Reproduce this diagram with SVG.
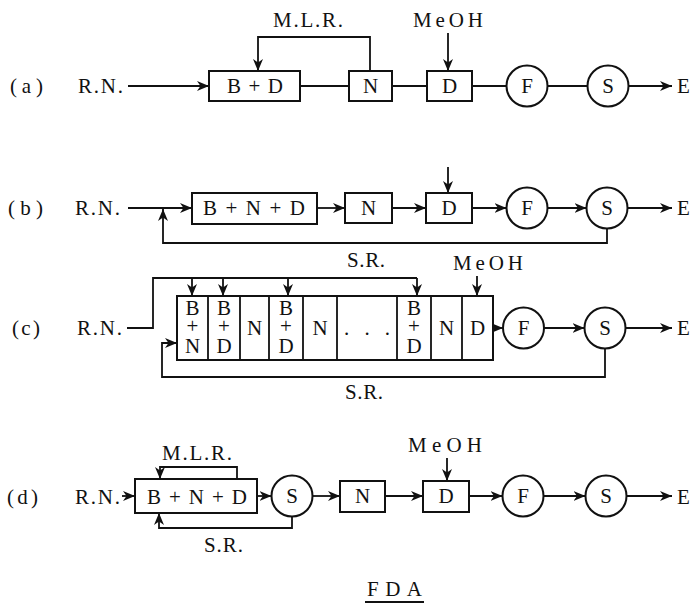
<svg xmlns="http://www.w3.org/2000/svg" width="698" height="610" viewBox="0 0 698 610">
<defs>
<style>
text{font-family:'Liberation Serif','DejaVu Serif',serif;font-size:21px;fill:#111}
.m{text-anchor:middle}
.ln{stroke:#111;stroke-width:1.8;fill:none}
.bx{stroke:#111;stroke-width:2;fill:#fff}
.ar{stroke:#111;stroke-width:1.8;fill:none;marker-end:url(#ah)}
</style>
<marker id="ah" markerUnits="userSpaceOnUse" viewBox="0 0 12 10" markerWidth="12" markerHeight="10" refX="12" refY="5" orient="auto">
<path d="M0,0 L12,5 L0,10 L3.5,5 z" fill="#111"/>
</marker>
</defs>
<rect width="698" height="610" fill="#fff"/>

<g id="labels" font-family="Liberation Serif, DejaVu Serif, serif">
<text x="10" y="93" textLength="33">(a)</text>
<text x="8" y="215" textLength="35">(b)</text>
<text x="12" y="335" textLength="28">(c)</text>
<text x="7" y="504" textLength="31">(d)</text>
<text x="78" y="93" textLength="45">R.N.</text>
<text x="75" y="215" textLength="45">R.N.</text>
<text x="77" y="335" textLength="45">R.N.</text>
<text x="75" y="504" textLength="45">R.N.</text>
<text x="273" y="27" textLength="70">M.L.R.</text>
<text x="413" y="27" textLength="70">MeOH</text>
<text x="347" y="267" textLength="38">S.R.</text>
<text x="453" y="270" textLength="70">MeOH</text>
<text x="345" y="399" textLength="38">S.R.</text>
<text x="162" y="460" textLength="70">M.L.R.</text>
<text x="204" y="552" textLength="39">S.R.</text>
<text x="408" y="452" textLength="74">MeOH</text>
<text x="677" y="93">E</text>
<text x="677" y="215">E</text>
<text x="677" y="335">E</text>
<text x="677" y="504">E</text>
<text x="367" y="596" textLength="55">FDA</text>
<line class="ln" x1="365" y1="602" x2="424" y2="602" stroke-width="1.3"/>
</g>

<g id="connectors">
<line class="ar" x1="128" y1="86" x2="209" y2="86"/>
<line class="ln" x1="300" y1="86" x2="349" y2="86"/>
<polyline class="ar" points="370,71 370,37 258,37 258,71"/>
<line class="ln" x1="392" y1="86" x2="427" y2="86"/>
<line class="ar" x1="448" y1="33" x2="448" y2="71"/>
<line class="ln" x1="472" y1="86" x2="506" y2="86"/>
<line class="ln" x1="548" y1="86" x2="587" y2="86"/>
<line class="ar" x1="629" y1="86" x2="672" y2="86"/>
<line class="ar" x1="128" y1="208" x2="192" y2="208"/>
<polyline class="ar" points="607,228.5 607,243 163,243 163,209"/>
<line class="ar" x1="317" y1="208" x2="345" y2="208"/>
<line class="ar" x1="392" y1="208" x2="426" y2="208"/>
<line class="ar" x1="448" y1="167" x2="448" y2="193"/>
<line class="ar" x1="472" y1="208" x2="506.5" y2="208"/>
<line class="ar" x1="547.5" y1="208" x2="586.5" y2="208"/>
<line class="ar" x1="627.5" y1="208" x2="672" y2="208"/>
<polyline class="ln" points="127,328 153,328 153,278 417,278"/>
<line class="ar" x1="192" y1="278" x2="192" y2="296"/>
<line class="ar" x1="223" y1="278" x2="223" y2="296"/>
<line class="ar" x1="288" y1="278" x2="288" y2="296"/>
<line class="ar" x1="417" y1="278" x2="417" y2="296"/>
<line class="ar" x1="477" y1="276" x2="477" y2="296"/>
<line class="ar" x1="493" y1="328" x2="503" y2="328"/>
<line class="ar" x1="543.5" y1="328" x2="584.5" y2="328"/>
<line class="ar" x1="625.5" y1="328" x2="672" y2="328"/>
<polyline class="ar" points="605,348.5 605,377 162,377 162,343 177,343"/>
<line class="ar" x1="122" y1="496" x2="135" y2="496"/>
<polyline class="ar" points="237,479 237,467 160,467 160,479"/>
<polyline class="ar" points="292,516.5 292,528 159,528 159,513"/>
<line class="ar" x1="257" y1="496" x2="271.5" y2="496"/>
<line class="ar" x1="312.5" y1="496" x2="340" y2="496"/>
<line class="ar" x1="385" y1="496" x2="423" y2="496"/>
<line class="ar" x1="447" y1="458" x2="447" y2="481"/>
<line class="ar" x1="469" y1="496" x2="502.5" y2="496"/>
<line class="ar" x1="543.5" y1="496" x2="585.5" y2="496"/>
<line class="ar" x1="626.5" y1="496" x2="672" y2="496"/>
</g>

<g id="a-BD"><rect class="bx" x="209" y="71" width="91" height="30"/><text class="m" x="255" y="93" textLength="56">B+D</text></g>
<g id="a-N"><rect class="bx" x="349" y="71" width="43" height="30"/><text class="m" x="370.5" y="93">N</text></g>
<g id="a-D"><rect class="bx" x="427" y="71" width="45" height="30"/><text class="m" x="449.5" y="93">D</text></g>
<g id="a-F"><circle class="bx" cx="527" cy="86" r="20.5"/><text class="m" x="527" y="93">F</text></g>
<g id="a-S"><circle class="bx" cx="608" cy="86" r="20.5"/><text class="m" x="608" y="93">S</text></g>

<g id="b-BND"><rect class="bx" x="192" y="193" width="125" height="31"/><text class="m" x="254" y="215" textLength="102">B+N+D</text></g>
<g id="b-N"><rect class="bx" x="345" y="193" width="47" height="30"/><text class="m" x="368.5" y="215">N</text></g>
<g id="b-D"><rect class="bx" x="426" y="193" width="46" height="30"/><text class="m" x="449" y="215">D</text></g>
<g id="b-F"><circle class="bx" cx="527" cy="208" r="20.5"/><text class="m" x="527" y="215">F</text></g>
<g id="b-S"><circle class="bx" cx="607" cy="208" r="20.5"/><text class="m" x="607" y="215">S</text></g>

<g id="c-reactor">
<rect class="bx" x="177" y="296" width="316" height="64"/>
<path class="ln" d="M208,296V360M240,296V360M269,296V360M303,296V360M337,296V360M397,296V360M431,296V360M462,296V360" stroke-width="2"/>
<text class="m" x="192.5" y="315" font-size="20"><tspan x="192.5">B</tspan><tspan x="192.5" dy="18">+</tspan><tspan x="192.5" dy="20">N</tspan></text>
<text class="m" x="224" y="315" font-size="20"><tspan x="224">B</tspan><tspan x="224" dy="18">+</tspan><tspan x="224" dy="20">D</tspan></text>
<text class="m" x="254.5" y="335">N</text>
<text class="m" x="286" y="315" font-size="20"><tspan x="286">B</tspan><tspan x="286" dy="18">+</tspan><tspan x="286" dy="20">D</tspan></text>
<text class="m" x="320" y="335">N</text>
<text class="m" x="367" y="335" textLength="46">. . .</text>
<text class="m" x="414" y="315" font-size="20"><tspan x="414">B</tspan><tspan x="414" dy="18">+</tspan><tspan x="414" dy="20">D</tspan></text>
<text class="m" x="446.5" y="335">N</text>
<text class="m" x="477.5" y="335">D</text>
</g>
<g id="c-F"><circle class="bx" cx="523.5" cy="328" r="20.5"/><text class="m" x="523.5" y="335">F</text></g>
<g id="c-S"><circle class="bx" cx="605" cy="328" r="20.5"/><text class="m" x="605" y="335">S</text></g>

<g id="d-BND"><rect class="bx" x="135" y="479" width="122" height="34"/><text class="m" x="197" y="504" textLength="100">B+N+D</text></g>
<g id="d-S1"><circle class="bx" cx="292" cy="496" r="20.5"/><text class="m" x="292" y="503">S</text></g>
<g id="d-N"><rect class="bx" x="340" y="481" width="45" height="31"/><text class="m" x="362.5" y="503">N</text></g>
<g id="d-D"><rect class="bx" x="423" y="481" width="46" height="31"/><text class="m" x="446" y="503">D</text></g>
<g id="d-F"><circle class="bx" cx="523" cy="496" r="20.5"/><text class="m" x="523" y="503">F</text></g>
<g id="d-S2"><circle class="bx" cx="606" cy="496" r="20.5"/><text class="m" x="606" y="503">S</text></g>
</svg>
